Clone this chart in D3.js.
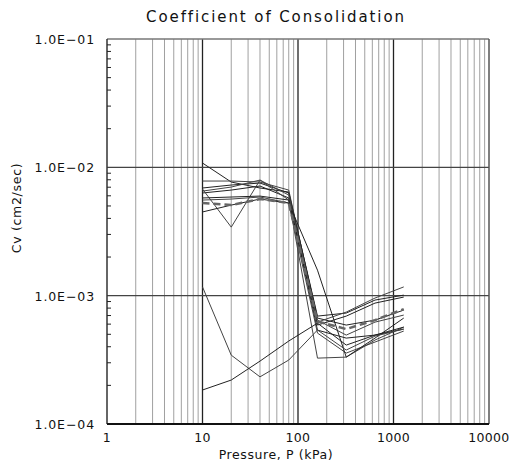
<!DOCTYPE html>
<html>
<head>
<meta charset="utf-8">
<script src="https://cdn.jsdelivr.net/npm/d3@7"></script>
<style>
  body { margin: 0; background: #fff; }
  text { font-family: "DejaVu Sans", sans-serif; fill: #111; }
</style>
</head>
<body>
<svg width="510" height="468"></svg>
<script>
const width = 510;
const height = 468;

// pressures of the load steps (kPa)
const pressure = [10, 20, 40, 80, 160, 320, 640, 1280];

// Cv for each test (cm2/sec)
const test1 = [1.08e-2, 7.68e-3, 6.9e-3, 6.42e-3, 6.69e-4, 5.9e-4, 6.45e-4, 7.72e-4];
const test2 = [7.82e-3, 7.82e-3, 7.68e-3, 6.65e-3, 6.45e-4, 4.93e-4, 6.22e-4, 7.06e-4];
const test3 = [6.9e-3, 7.28e-3, 7.54e-3, 6.31e-3, 6.93e-4, 7.32e-4, 9.24e-4, 1.01e-3];
const test4 = [6.53e-3, 7.02e-3, 7.96e-3, 6.08e-3, 6.22e-4, 7.45e-4, 9.58e-4, 1.17e-3];
const test5 = [6.31e-3, 6.65e-3, 7.15e-3, 5.77e-3, 5.39e-4, 4.67e-4, 4.93e-4, 5.49e-4];
const test6 = [6.77e-3, 3.42e-3, 7.96e-3, 5.56e-3, 3.26e-4, 3.32e-4, 4.51e-4, 5.69e-4];
const test7 = [5.77e-3, 5.87e-3, 5.97e-3, 5.56e-3, 5.9e-4, 6.93e-4, 8.75e-4, 9.75e-4];
const test8 = [5.56e-3, 5.66e-3, 5.87e-3, 5.27e-3, 5.11e-4, 3.57e-4, 4.35e-4, 5.3e-4];
const test9 = [4.49e-3, 5.08e-3, 5.66e-3, 5.27e-3, 1.58e-3, 3.32e-4, 4.67e-4, 6.69e-4];
const test10 = [1.17e-3, 3.44e-4, 2.33e-4, 3.15e-4, 5.4e-4, 3.77e-4, 4.84e-4, 5.49e-4];
const test11 = [1.84e-4, 2.2e-4, 3.09e-4, 4.43e-4, 6.11e-4, 4.12e-4, 4.93e-4, 5.69e-4];
const average = [5.27e-3, 5.08e-3, 5.66e-3, 5.27e-3, 6.3e-4, 5.49e-4, 6.45e-4, 7.86e-4];

const tests = [test1, test2, test3, test4, test5, test6, test7, test8, test9, test10, test11];

const xTicks = [1, 10, 100, 1000, 10000];
const yTicks = [1e-4, 1e-3, 1e-2, 1e-1];
const yTickLabels = ["1.0E\u221204", "1.0E\u221203", "1.0E\u221202", "1.0E\u221201"];

const plotL = 107, plotR = 489, plotT = 39, plotB = 424;

const svg = d3.select("svg");

const x = d3.scaleLog().domain([1, 10000]).range([plotL, plotR]);
const y = d3.scaleLog().domain([1e-4, 1e-1]).range([plotB, plotT]);

// minor values 2..9 in each decade
function minors(lo, hi) {
  const out = [];
  for (let d = lo; d < hi * 0.99; d *= 10)
    for (let k = 2; k <= 9; k++) out.push(d * k);
  return out;
}

// vertical grid
svg.append("g").selectAll("line")
  .data(minors(1, 10000))
  .enter().append("line")
  .attr("x1", d => x(d)).attr("x2", d => x(d))
  .attr("y1", plotT).attr("y2", plotB)
  .attr("stroke", "#a0a0a0").attr("stroke-width", 1);

svg.append("g").selectAll("line")
  .data([10, 100, 1000])
  .enter().append("line")
  .attr("x1", d => x(d)).attr("x2", d => x(d))
  .attr("y1", plotT).attr("y2", plotB)
  .attr("stroke", "#222").attr("stroke-width", 1.3);

// horizontal grid at decades
svg.append("g").selectAll("line")
  .data([1e-3, 1e-2])
  .enter().append("line")
  .attr("x1", plotL).attr("x2", plotR)
  .attr("y1", d => y(d)).attr("y2", d => y(d))
  .attr("stroke", "#444").attr("stroke-width", 1.3);

// frame
svg.append("line").attr("x1", plotL).attr("x2", plotR).attr("y1", plotT).attr("y2", plotT)
  .attr("stroke", "#777").attr("stroke-width", 1.5);
svg.append("line").attr("x1", plotR).attr("x2", plotR).attr("y1", plotT).attr("y2", plotB)
  .attr("stroke", "#555").attr("stroke-width", 1.5);
svg.append("line").attr("x1", plotL).attr("x2", plotL).attr("y1", plotT).attr("y2", plotB)
  .attr("stroke", "#333").attr("stroke-width", 1.5);
svg.append("line").attr("x1", plotL).attr("x2", plotR).attr("y1", plotB).attr("y2", plotB)
  .attr("stroke", "#111").attr("stroke-width", 2);

// small ticks on the y axis
svg.append("g").selectAll("line")
  .data(minors(1e-4, 1e-1))
  .enter().append("line")
  .attr("x1", plotL).attr("x2", plotL + 4)
  .attr("y1", d => y(d)).attr("y2", d => y(d))
  .attr("stroke", "#222").attr("stroke-width", 1);

// data lines
const line = d3.line()
  .x((d, i) => x(pressure[i]))
  .y(d => y(d));

svg.append("g").selectAll("path")
  .data(tests)
  .enter().append("path")
  .attr("d", line)
  .attr("fill", "none")
  .attr("stroke", (d, i) => i % 2 ? "#444" : "#222")
  .attr("stroke-width", 1);

svg.append("path")
  .attr("d", line(average))
  .attr("fill", "none")
  .attr("stroke", "#666")
  .attr("stroke-width", 2.5)
  .attr("stroke-dasharray", "7,4");

// tick labels
svg.append("g").selectAll("text")
  .data(xTicks)
  .enter().append("text")
  .attr("x", d => x(d)).attr("y", 442)
  .attr("text-anchor", "middle")
  .style("font-size", "12.5px")
  .style("letter-spacing", "0.3px")
  .text(d => d);

svg.append("g").selectAll("text")
  .data(yTicks)
  .enter().append("text")
  .attr("x", 95).attr("y", d => y(d) + 5)
  .attr("text-anchor", "end")
  .style("font-size", "12.5px")
  .style("letter-spacing", "0.9px")
  .text((d, i) => yTickLabels[i]);

// titles
svg.append("text")
  .attr("x", 276).attr("y", 22)
  .attr("text-anchor", "middle")
  .style("font-size", "15px")
  .style("letter-spacing", "1.9px")
  .text("Coefficient of Consolidation");

svg.append("text")
  .attr("x", 276).attr("y", 459)
  .attr("text-anchor", "middle")
  .style("font-size", "12.5px")
  .style("letter-spacing", "0.6px")
  .text("Pressure, P (kPa)");

svg.append("text")
  .attr("transform", "translate(21,208) rotate(-90)")
  .attr("text-anchor", "middle")
  .style("font-size", "12.5px")
  .style("letter-spacing", "0.7px")
  .text("Cv  (cm2/sec)");
</script>
</body>
</html>
